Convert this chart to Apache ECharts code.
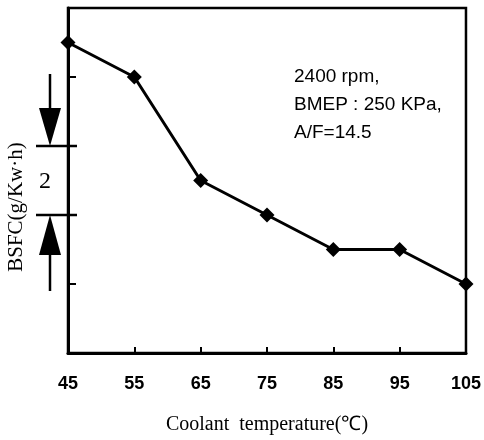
<!DOCTYPE html>
<html>
<head>
<meta charset="utf-8">
<script src="https://cdn.jsdelivr.net/npm/echarts@6/dist/echarts.min.js"></script>
<style>html,body{margin:0;padding:0;background:#fff}#c{width:484px;height:440px}</style>
</head>
<body>
<div id="c"></div>
<script>
var temperatures = [45, 55, 65, 75, 85, 95, 105];
var bsfc = [253, 252, 249, 248, 247, 247, 246];
var xTicks = [45, 55, 65, 75, 85, 95, 105];
var yScale = {min: 244, max: 254, step: 2};
var scaleBar = {from: 250, to: 248, label: '2'};
var noteLines = ['2400 rpm,', 'BMEP : 250 KPa,', 'A/F=14.5'];

var chart = echarts.init(document.getElementById('c'));
var option = {
  animation: false,
  backgroundColor: '#fff',
  grid: {left: 68, top: 8, right: 18, bottom: 85, show: true, borderColor: '#000', borderWidth: 2.5, backgroundColor: 'transparent'},
  xAxis: {
    type: 'value', min: 45, max: 105, interval: 10,
    axisLine: {show: true, lineStyle: {color: '#000', width: 3}},
    axisTick: {show: true, inside: true, length: 6, lineStyle: {color: '#000', width: 2}},
    splitLine: {show: false},
    axisLabel: {color: '#000', fontFamily: 'Liberation Sans', fontWeight: 'bold', fontSize: 18, margin: 22,
      formatter: function (v) { return xTicks.indexOf(v) >= 0 ? String(v) : ''; }},
    name: 'Coolant  temperature(\u2103)', nameLocation: 'middle', nameGap: 62,
    nameTextStyle: {color: '#000', fontFamily: 'Liberation Serif', fontSize: 20}
  },
  yAxis: {
    type: 'value', min: yScale.min, max: yScale.max, interval: yScale.step,
    axisLine: {show: true, lineStyle: {color: '#000', width: 3}},
    axisTick: {show: true, inside: true, length: 8, lineStyle: {color: '#000', width: 2}},
    splitLine: {show: false},
    axisLabel: {show: false}
  },
  series: [{
    type: 'line', data: temperatures.map(function (t, i) { return [t, bsfc[i]]; }),
    symbol: 'diamond', symbolSize: 15, clip: false,
    lineStyle: {color: '#000', width: 3}, itemStyle: {color: '#000'}
  }]
};
chart.setOption(option);

var yTop = chart.convertToPixel({yAxisIndex: 0}, scaleBar.from);
var yBot = chart.convertToPixel({yAxisIndex: 0}, scaleBar.to);
var ax = 50;
var g = [];
g.push({type: 'line', shape: {x1: 36, y1: yTop, x2: 77, y2: yTop}, style: {stroke: '#000', lineWidth: 2.5}});
g.push({type: 'line', shape: {x1: 36, y1: yBot, x2: 77, y2: yBot}, style: {stroke: '#000', lineWidth: 2.5}});
g.push({type: 'line', shape: {x1: ax, y1: yTop - 72, x2: ax, y2: yTop - 37}, style: {stroke: '#000', lineWidth: 2.5}});
g.push({type: 'polygon', shape: {points: [[ax - 11, yTop - 38], [ax + 11, yTop - 38], [ax, yTop]]}, style: {fill: '#000'}});
g.push({type: 'polygon', shape: {points: [[ax - 11, yBot + 40], [ax + 11, yBot + 40], [ax, yBot]]}, style: {fill: '#000'}});
g.push({type: 'line', shape: {x1: ax, y1: yBot + 39, x2: ax, y2: yBot + 76}, style: {stroke: '#000', lineWidth: 2.5}});
g.push({type: 'text', x: 45, y: (yTop + yBot) / 2 + 1, style: {text: scaleBar.label, fill: '#000', font: '24px "Liberation Serif"', textAlign: 'center', textVerticalAlign: 'middle'}});
g.push({type: 'text', x: 16, y: 207, rotation: Math.PI / 2, style: {text: 'BSFC(g/Kw\u00b7h)', fill: '#000', font: '21px "Liberation Serif"', textAlign: 'center', textVerticalAlign: 'middle'}});
noteLines.forEach(function (t, i) {
  g.push({type: 'text', x: 294, y: 77 + i * 28, style: {text: t, fill: '#000', font: '19px "Liberation Sans"', textAlign: 'left', textVerticalAlign: 'middle'}});
});
chart.setOption({graphic: g});
</script>
</body>
</html>
